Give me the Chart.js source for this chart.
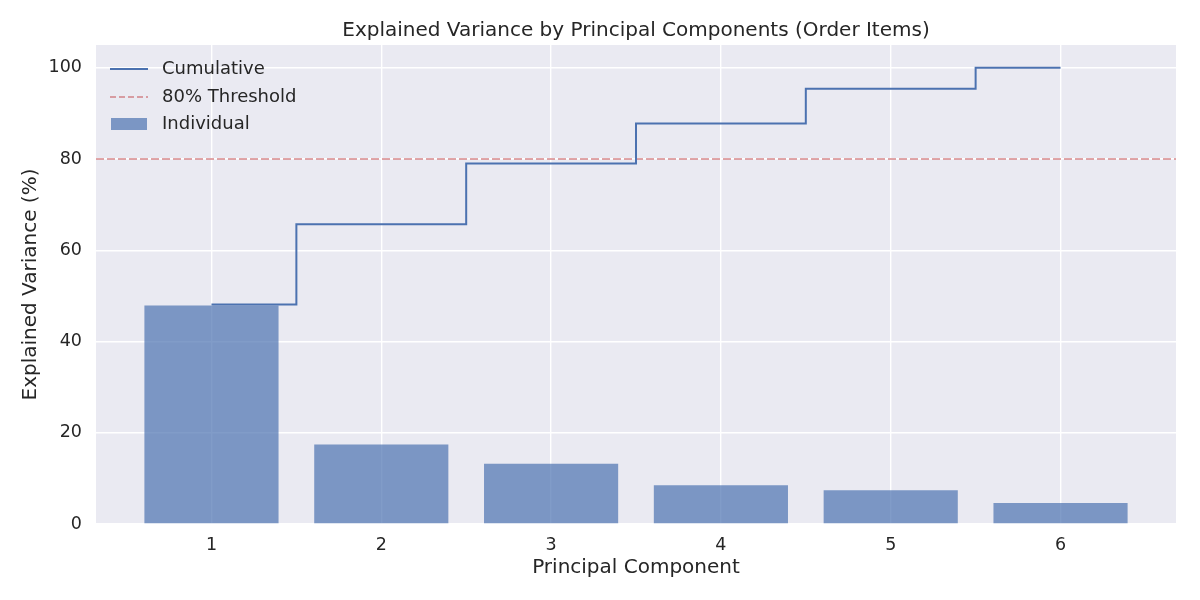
<!DOCTYPE html>
<html>
<head>
<meta charset="utf-8">
<script src="https://cdn.jsdelivr.net/npm/chart.js@4"></script>
<style>
  body { margin: 0; background: #fff; }
  #wrap { width: 1200px; height: 600px; }
</style>
</head>
<body>
<div id="wrap"><canvas id="pcaChart" width="1200" height="600"></canvas></div>
<script>
// values
const components = [1, 2, 3, 4, 5, 6];
const individual = [47.9, 17.4, 13.2, 8.5, 7.4, 4.6];
const cumulative = [48.1, 65.7, 79.0, 87.8, 95.4, 100.0];
const threshold = 80;
const yTicks = [0, 20, 40, 60, 80, 100];

const FONT = "'DejaVu Sans', sans-serif";
const TEXT = '#262626';
const BLUE = '#4C72B0';
const RED_A = 'rgba(196,78,82,0.5)';
const X_MIN = 0.32, X_MAX = 6.68;

// legend drawn inside the plot, top-left like matplotlib
const innerLegend = {
  id: 'innerLegend',
  afterDraw(chart) {
    const ctx = chart.ctx;
    const a = chart.chartArea;
    const x0 = a.left + 14, rows = [a.top + 24, a.top + 52, a.top + 79];
    ctx.save();
    ctx.font = '18px ' + FONT;
    ctx.fillStyle = TEXT;
    ctx.textBaseline = 'middle';

    ctx.strokeStyle = BLUE;
    ctx.lineWidth = 2;
    ctx.beginPath(); ctx.moveTo(x0, rows[0]); ctx.lineTo(x0 + 38, rows[0]); ctx.stroke();
    ctx.fillText('Cumulative', x0 + 52, rows[0]);

    ctx.strokeStyle = RED_A;
    ctx.setLineDash([6, 3]);
    ctx.beginPath(); ctx.moveTo(x0, rows[1]); ctx.lineTo(x0 + 38, rows[1]); ctx.stroke();
    ctx.setLineDash([]);
    ctx.fillText('80% Threshold', x0 + 52, rows[1]);

    ctx.fillStyle = 'rgba(76,114,176,0.7)';
    ctx.fillRect(x0 + 1, rows[2] - 6, 36, 12);
    ctx.fillStyle = TEXT;
    ctx.fillText('Individual', x0 + 52, rows[2]);
    ctx.restore();
  }
};

const plotBg = {
  id: 'plotBg',
  beforeDraw(chart) {
    const a = chart.chartArea;
    chart.ctx.save();
    chart.ctx.fillStyle = '#EAEAF2';
    chart.ctx.fillRect(a.left, a.top, a.right - a.left, a.bottom - a.top);
    chart.ctx.restore();
  }
};

const ctx = document.getElementById('pcaChart').getContext('2d');
new Chart(ctx, {
  data: {
    datasets: [
      {
        type: 'line',
        label: 'Cumulative',
        data: components.map((c, i) => ({ x: c, y: cumulative[i] })),
        borderColor: BLUE,
        borderWidth: 2,
        stepped: 'middle',
        pointRadius: 0,
        fill: false,
        order: 1
      },
      {
        type: 'line',
        label: '80% Threshold',
        data: [{ x: X_MIN, y: threshold }, { x: X_MAX, y: threshold }],
        borderColor: RED_A,
        borderWidth: 2,
        borderDash: [8, 3],
        pointRadius: 0,
        fill: false,
        order: 2
      },
      {
        type: 'bar',
        label: 'Individual',
        data: components.map((c, i) => ({ x: c, y: individual[i] })),
        backgroundColor: 'rgba(76,114,176,0.7)',
        borderWidth: 0,
        barPercentage: 0.79,
        categoryPercentage: 1.0,
        order: 3
      }
    ]
  },
  options: {
    responsive: false,
    animation: false,
    layout: { padding: { top: 0, right: 24, left: 19, bottom: 20 } },
    plugins: {
      legend: { display: false },
      tooltip: { enabled: false },
      title: {
        display: true,
        fullSize: false, // center over the plot area, like matplotlib
        text: 'Explained Variance by Principal Components (Order Items)',
        color: TEXT,
        font: { family: FONT, size: 20, weight: 'normal' },
        padding: { top: 19, bottom: 2 }
      }
    },
    scales: {
      x: {
        type: 'linear',
        min: X_MIN,
        max: X_MAX,
        offset: false,
        afterBuildTicks: s => { s.ticks = components.map(v => ({ value: v })); },
        afterFit: s => { s.height = 56; },
        ticks: { color: TEXT, font: { family: FONT, size: 17.5 }, padding: 11 },
        grid: { color: '#ffffff', lineWidth: 1.4, drawTicks: false, offset: false },
        border: { display: false },
        title: {
          display: true,
          text: 'Principal Component',
          color: TEXT,
          font: { family: FONT, size: 20 },
          padding: { top: 2, bottom: 0 }
        }
      },
      y: {
        min: 0,
        max: 105,
        afterBuildTicks: s => { s.ticks = yTicks.map(v => ({ value: v })); },
        afterFit: s => { s.width = 77; },
        ticks: { color: TEXT, font: { family: FONT, size: 17.5 }, padding: 14 },
        grid: { color: '#ffffff', lineWidth: 1.4, drawTicks: false },
        border: { display: false },
        title: {
          display: true,
          text: 'Explained Variance (%)',
          color: TEXT,
          font: { family: FONT, size: 20 },
          padding: { top: 0, bottom: 4 }
        }
      }
    }
  },
  plugins: [plotBg, innerLegend]
});
</script>
</body>
</html>
